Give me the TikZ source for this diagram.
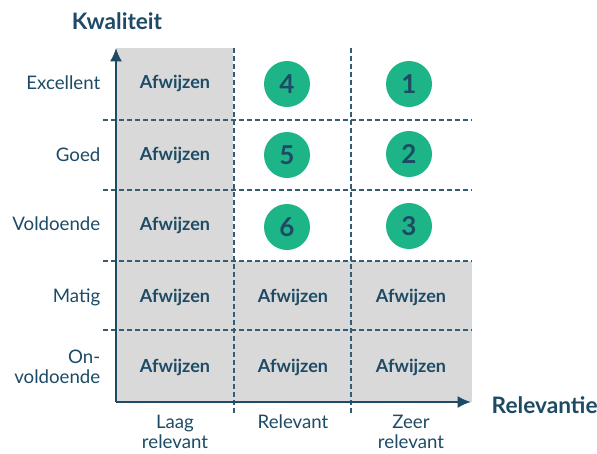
\documentclass[tikz,border=0pt]{standalone}
\usepackage{fontspec}
\setmainfont{Lato}
\usetikzlibrary{arrows.meta}
\definecolor{navy}{HTML}{1D4B65}
\definecolor{mint}{HTML}{1DB587}
\definecolor{grijs}{HTML}{D9D9D9}

\begin{document}
\begin{tikzpicture}[>=Latex, x=0.75pt, y=-0.75pt,
    every node/.style={text=navy, font=\fontsize{14}{15}\selectfont},
    raster/.style={navy!90, line width=0.9pt, dash pattern=on 3.5pt off 2.5pt},
    as/.style={->, navy, line width=1.5pt, -{Latex[length=10pt, width=9pt]}},
    afwijs/.style={font=\bfseries\fontsize{13.5}{15}\selectfont},
    score/.style={circle, fill=mint, minimum size=34.5pt, inner sep=0pt, font=\bfseries\fontsize{19.5}{21}\selectfont},
    rij/.style={anchor=east, align=right},
    kolom/.style={anchor=north, align=center}]
                \useasboundingbox (0,0) rectangle (597,454);
                
                \fill[grijs] (116,48) rectangle (233,402);
                \fill[grijs] (116,261) rectangle (472,402);
                
                \foreach \y in {120,190,261,330}
                    \draw[raster] (103,\y) -- (472,\y);
                \foreach \x in {234,351}
                    \draw[raster] (\x,48) -- (\x,413);
                
                \coordinate (O) at (116,402);
                \coordinate (Ytop) at (116,48);
                \coordinate (Xend) at (471,402);
                
                \draw[as] (O) -- (Ytop);
                \draw[as] (O) -- (Xend);
                
                \node[font=\bfseries\fontsize{17}{19}\selectfont] (kwal) at (117,21) {Kwaliteit};
                \node[font=\bfseries\fontsize{17}{19}\selectfont, anchor=west] (rel) at (487,405) {Relevantie};
                
                \node[rij] (excellent) at (105,83) {Excellent};
                \node[rij] (goed) at (105,155) {Goed};
                \node[rij] (voldoende) at (105,224) {Voldoende};
                \node[rij] (matig) at (105,297) {Matig};
                \node[rij] (onvoldoende) at (105,367) {On-\\voldoende};
                
                \node[kolom] (laag) at (175,410) {Laag\\relevant};
                \node[kolom] (relevant) at (293,410) {Relevant};
                \node[kolom] (zeer) at (411,410) {Zeer\\relevant};
                
                \node[afwijs] (a1) at (175,83) {Afwijzen};
                \node[afwijs] (a2) at (175,155) {Afwijzen};
                \node[afwijs] (a3) at (175,225) {Afwijzen};
                \node[afwijs] (a4) at (175,297) {Afwijzen};
                \node[afwijs] (a5) at (175,367) {Afwijzen};
                \node[afwijs] (a6) at (293,297) {Afwijzen};
                \node[afwijs] (a7) at (293,367) {Afwijzen};
                \node[afwijs] (a8) at (411,297) {Afwijzen};
                \node[afwijs] (a9) at (411,367) {Afwijzen};
                
                \node[score] (s4) at (287,84) {4};
                \node[score] (s1) at (409,84) {1};
                \node[score] (s5) at (287,155) {5};
                \node[score] (s2) at (409,154) {2};
                \node[score] (s6) at (287,227) {6};
                \node[score] (s3) at (409,226) {3};
            \end{tikzpicture}
\end{document}
